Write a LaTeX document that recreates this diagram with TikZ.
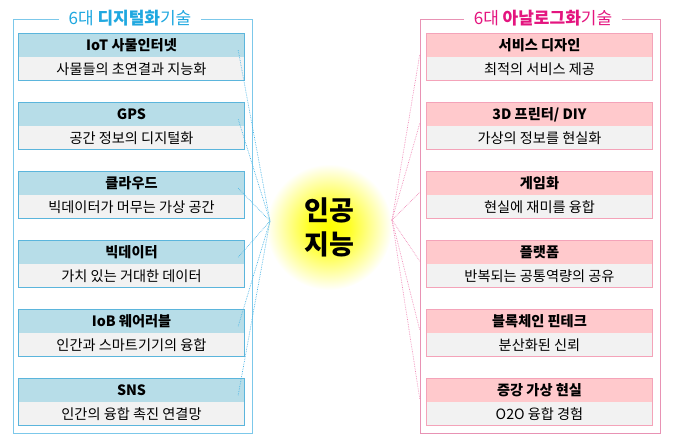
\documentclass[tikz,border=0pt]{standalone}
\usepackage{fontspec}
\setmainfont{Noto Sans CJK KR}
\usepackage{xcolor}
\usepackage{tikz}
\usetikzlibrary{positioning,shapes}
\definecolor{hdblue}{HTML}{B7DDE8}
\definecolor{hdpink}{HTML}{FFC9CC}
\definecolor{bdgray}{HTML}{F2F2F2}
\definecolor{bordL}{HTML}{5BB5DC}
\definecolor{bordR}{HTML}{F4A3B9}
\definecolor{frameL}{HTML}{7CC8EA}
\definecolor{frameR}{HTML}{E892B4}
\definecolor{lineL}{HTML}{4DB6E6}
\definecolor{lineR}{HTML}{F08CB8}
\definecolor{titleL}{HTML}{1FA8E0}
\definecolor{titleR}{HTML}{E4157F}
\pgfdeclareradialshading{aiglow}{\pgfpoint{0bp}{0bp}}{color(0bp)=(yellow); color(8bp)=(yellow!85!white); color(17bp)=(yellow!40!white); color(25bp)=(white); color(50bp)=(white)}
\pgfkeys{tikz/hdleft/.style={fill=hdblue,minimum width=225pt,minimum height=23pt,inner sep=0pt,font=\bfseries\fontsize{14.2}{16}\selectfont}}
\pgfkeys{tikz/bdleft/.style={fill=bdgray,minimum width=225pt,minimum height=23pt,inner sep=0pt,font=\fontsize{14.2}{16}\selectfont}}
\pgfkeys{tikz/hdright/.style={hdleft,fill=hdpink}}
\pgfkeys{tikz/bdright/.style={bdleft}}
\pgfkeys{tikz/boxleft/.style={draw=bordL,line width=1.3pt}}
\pgfkeys{tikz/boxright/.style={draw=bordR,line width=1.3pt}}
\pgfkeys{tikz/lineleft/.style={draw=lineL,densely dotted,line width=0.7pt}}
\pgfkeys{tikz/lineright/.style={draw=lineR,densely dotted,line width=0.7pt}}
\pgfkeys{tikz/ttl/.style={fill=white,inner xsep=10pt,inner ysep=1pt,font=\fontsize{17}{19}\selectfont}}

\begin{document}
\begin{tikzpicture}[x=1pt,y=-1pt,node distance = 69pt]
\useasboundingbox (0,0) rectangle (677,445);
 \draw[frameL,line width=0.9pt] (13,19) rectangle (252,433);
 \draw[frameR,line width=0.9pt] (420,19) rectangle (660,433);
 \node[ttl,text=titleL] (tl) at (130,18) {6대 \textbf{디지털화}기술};
 \node[ttl,text=titleR] (tr) at (543,18) {6대 \textbf{아날로그화}기술};

 \node[hdleft] (lh1) at (131.5,45.5) {IoT 사물인터넷};
  \node[bdleft,below=0pt of lh1] (lb1) {사물들의 초연결과 지능화};
 \node[hdleft,below of=lh1] (lh2) {GPS};
  \node[bdleft,below=0pt of lh2] (lb2) {공간 정보의 디지털화};
 \node[hdleft,below of=lh2] (lh3) {클라우드};
  \node[bdleft,below=0pt of lh3] (lb3) {빅데이터가 머무는 가상 공간};
 \node[hdleft,below of=lh3] (lh4) {빅데이터};
  \node[bdleft,below=0pt of lh4] (lb4) {가치 있는 거대한 데이터};
 \node[hdleft,below of=lh4] (lh5) {IoB 웨어러블};
  \node[bdleft,below=0pt of lh5] (lb5) {인간과 스마트기기의 융합};
 \node[hdleft,below of=lh5] (lh6) {SNS};
  \node[bdleft,below=0pt of lh6] (lb6) {인간의 융합 촉진 연결망};

 \node[hdright] (rh1) at (539.5,45.5) {서비스 디자인};
  \node[bdright,below=0pt of rh1] (rb1) {최적의 서비스 제공};
 \node[hdright,below of=rh1] (rh2) {3D 프린터/ DIY};
  \node[bdright,below=0pt of rh2] (rb2) {가상의 정보를 현실화};
 \node[hdright,below of=rh2] (rh3) {게임화};
  \node[bdright,below=0pt of rh3] (rb3) {현실에 재미를 융합};
 \node[hdright,below of=rh3] (rh4) {플랫폼};
  \node[bdright,below=0pt of rh4] (rb4) {반복되는 공통역량의 공유};
 \node[hdright,below of=rh4] (rh5) {블록체인 핀테크};
  \node[bdright,below=0pt of rh5] (rb5) {분산화된 신뢰};
 \node[hdright,below of=rh5] (rh6) {증강 가상 현실};
  \node[bdright,below=0pt of rh6] (rb6) {O2O 융합 경험};

 \draw[boxleft] (lh1.north west) rectangle (lb1.south east);
 \draw[boxleft] (lh2.north west) rectangle (lb2.south east);
 \draw[boxleft] (lh3.north west) rectangle (lb3.south east);
 \draw[boxleft] (lh4.north west) rectangle (lb4.south east);
 \draw[boxleft] (lh5.north west) rectangle (lb5.south east);
 \draw[boxleft] (lh6.north west) rectangle (lb6.south east);
 \draw[boxright] (rh1.north west) rectangle (rb1.south east);
 \draw[boxright] (rh2.north west) rectangle (rb2.south east);
 \draw[boxright] (rh3.north west) rectangle (rb3.south east);
 \draw[boxright] (rh4.north west) rectangle (rb4.south east);
 \draw[boxright] (rh5.north west) rectangle (rb5.south east);
 \draw[boxright] (rh6.north west) rectangle (rb6.south east);

 \node[circle,minimum size=126pt,shading=aiglow,align=center,
   font=\bfseries\fontsize{27}{34}\selectfont] (ai) at (329,227) {인공\\지능};
 \coordinate (cl) at (270,221);
 \coordinate (cr) at (392,220);

 \draw[lineleft] ([xshift=-6pt,yshift=7pt]lh1.south east) -- (cl);
 \draw[lineleft] ([xshift=-6pt,yshift=7pt]lh2.south east) -- (cl);
 \draw[lineleft] ([xshift=-6pt,yshift=7pt]lh3.south east) -- (cl);
 \draw[lineleft] ([xshift=-6pt,yshift=7pt]lh4.south east) -- (cl);
 \draw[lineleft] ([xshift=-6pt,yshift=7pt]lh5.south east) -- (cl);
 \draw[lineleft] ([xshift=-6pt,yshift=7pt]lh6.south east) -- (cl);
 \draw[lineright] (cr) -- ([xshift=-7pt,yshift=3pt]rh1.south west);
 \draw[lineright] (cr) -- ([xshift=-7pt,yshift=3pt]rh2.south west);
 \draw[lineright] (cr) -- ([xshift=-7pt,yshift=3pt]rh3.south west);
 \draw[lineright] (cr) -- ([xshift=-7pt,yshift=3pt]rh4.south west);
 \draw[lineright] (cr) -- ([xshift=-7pt,yshift=3pt]rh5.south west);
 \draw[lineright] (cr) -- ([xshift=-7pt,yshift=3pt]rh6.south west);

\end{tikzpicture}
\end{document}
